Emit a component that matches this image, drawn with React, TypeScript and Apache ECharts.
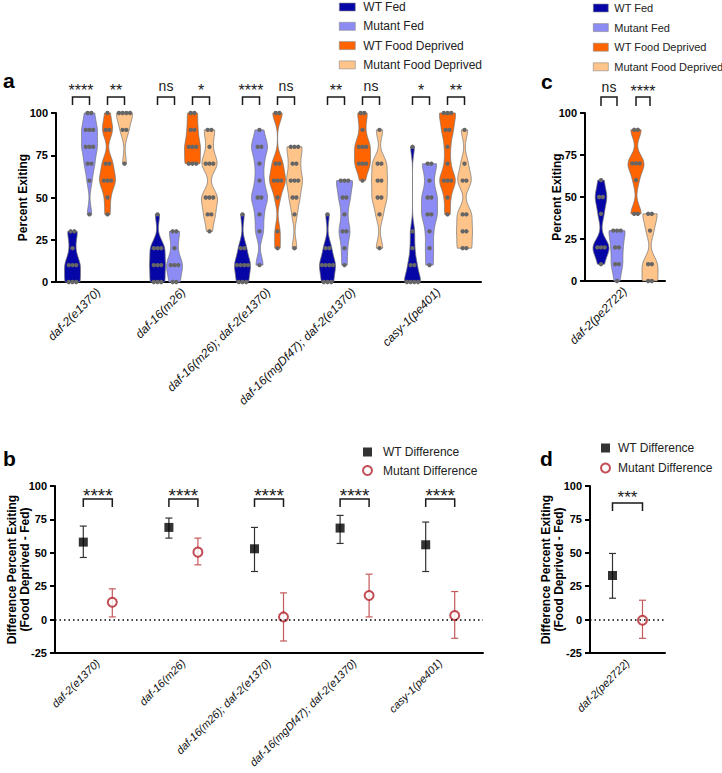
import React, { useEffect, useRef } from "react";
import * as echarts from "echarts";

const FONT = "'Liberation Sans', Arial, Helvetica, sans-serif";

// ---------- Panel a / c : violin data (percent exiting per trial) ----------
const categoriesA = [
  "daf-2(e1370)",
  "daf-16(m26)",
  "daf-16(m26); daf-2(e1370)",
  "daf-16(mgDf47); daf-2(e1370)",
  "casy-1(pe401)",
];
const categoriesC = ["daf-2(pe2722)"];
const conditions = ["WT Fed", "Mutant Fed", "WT Food Deprived", "Mutant Food Deprived"];
const conditionColors = ["#0606a6", "#8c8cf4", "#ff6400", "#ffc48a"];

const wtFedA = [
  [0, 0, 0, 10, 10, 10, 20, 30, 30],
  [0, 0, 0, 10, 10, 10, 20, 20, 20, 40],
  [0, 0, 0, 10, 10, 10, 10, 20, 20, 40],
  [0, 0, 0, 10, 10, 10, 10, 20, 20, 40],
  [0, 0, 0, 0, 10, 10, 20, 30, 80],
];
const mutFedA = [
  [40, 60, 70, 70, 80, 80, 80, 90, 90, 90, 100, 100],
  [0, 0, 10, 10, 10, 20, 30, 30],
  [10, 30, 40, 50, 50, 60, 70, 80, 80, 90],
  [10, 20, 30, 30, 40, 50, 50, 60, 60, 60],
  [10, 20, 30, 40, 40, 50, 50, 60, 70, 70],
];
const wtFdA = [
  [40, 50, 60, 60, 60, 70, 70, 90, 90, 100],
  [70, 70, 70, 80, 80, 80, 90, 90, 100, 100],
  [20, 30, 50, 60, 60, 60, 70, 70, 100, 100],
  [60, 70, 70, 70, 80, 80, 80, 90, 100, 100],
  [40, 50, 60, 60, 60, 70, 80, 90, 90, 100, 100, 100],
];
const mutFdA = [
  [70, 90, 90, 100, 100, 100, 100],
  [30, 40, 40, 50, 50, 50, 70, 70, 70, 80, 90, 90],
  [20, 40, 50, 50, 60, 60, 60, 70, 70, 80, 80, 80],
  [20, 40, 50, 50, 60, 60, 70, 70, 90],
  [20, 20, 30, 30, 40, 40, 60, 60, 70, 90],
];
const wtFedC = [[10, 20, 20, 20, 40, 50, 50, 60]];
const mutFedC = [[0, 10, 10, 20, 20, 30, 30, 30]];
const wtFdC = [[40, 40, 60, 70, 70, 70, 90, 90]];
const mutFdC = [[0, 0, 10, 10, 30, 40, 40]];

const sigA = [
  ["****", "ns", "****", "**", "*"],
  ["**", "*", "ns", "ns", "**"],
];
const sigC = [["ns"], ["****"]];

// ---------- Panel b / d : differences ----------
const wtDiffB = [58, 69, 53, 68.5, 56];
const wtDiffLowB = [46.5, 61, 36, 57, 36];
const wtDiffHighB = [70, 76, 69, 78, 73];
const mutDiffB = [13, 50.5, 2, 18, 3];
const mutDiffLowB = [2, 41, -16, 2, -14];
const mutDiffHighB = [23, 61, 20, 34, 21];
const sigB = ["****", "****", "****", "****", "****"];

const wtDiffD = [33];
const wtDiffLowD = [16];
const wtDiffHighD = [49.5];
const mutDiffD = [-0.5];
const mutDiffLowD = [-14];
const mutDiffHighD = [14.5];
const sigD = ["***"];

// ---------- styling constants ----------
const HALF = 8;
const BW = 5;
const DOT_R = 2.2;
const DOT_GAP = 3.7;
const RED = "#b3202a";
const RED_BAR = "#c45a5a";

function kde(vals: number[]): [number, number][] {
  const lo = Math.min(...vals);
  const hi = Math.max(...vals);
  const steps = Math.max(2, Math.round(hi - lo));
  const pts: [number, number][] = [];
  for (let i = 0; i <= steps; i++) {
    const v = lo + ((hi - lo) * i) / steps;
    let d = 0;
    for (const x of vals) d += Math.exp(-0.5 * ((v - x) / BW) ** 2);
    pts.push([v, d]);
  }
  const dmax = Math.max(...pts.map((p) => p[1]));
  return pts.map(([v, d]) => [v, d / dmax]);
}

function violinSeries(axisIdx: number, lists: number[][][], offsets: number[]) {
  return lists.map((perCat, k) => ({
    type: "custom",
    name: conditions[k],
    xAxisIndex: axisIdx,
    yAxisIndex: axisIdx,
    z: 2,
    itemStyle: { color: conditionColors[k] },
    data: perCat.map((vals, i) => [i, Math.min(...vals), Math.max(...vals)]),
    encode: { x: 0, y: [1, 2] },
    renderItem: (_p: any, api: any) => {
      const cat = api.value(0);
      const vals = perCat[cat];
      const cx = api.coord([cat, 0])[0] + offsets[k];
      const prof = kde(vals);
      const pts: number[][] = [];
      for (const [v, w] of prof) pts.push([cx - w * HALF, api.coord([cat, v])[1]]);
      for (let i = prof.length - 1; i >= 0; i--)
        pts.push([cx + prof[i][1] * HALF, api.coord([cat, prof[i][0]])[1]]);
      const children: any[] = [
        {
          type: "polygon",
          shape: { points: pts },
          style: { fill: conditionColors[k], stroke: "#727272", lineWidth: 0.7 },
        },
      ];
      const counts = new Map<number, number>();
      vals.forEach((v) => counts.set(v, (counts.get(v) || 0) + 1));
      counts.forEach((n, v) => {
        const y = api.coord([cat, v])[1];
        for (let j = 0; j < n; j++)
          children.push({
            type: "circle",
            shape: { cx: cx + (j - (n - 1) / 2) * DOT_GAP, cy: y, r: DOT_R },
            style: { fill: "#666" },
          });
      });
      return { type: "group", children };
    },
  }));
}

function textY(label: string, glyphCenter: number, fs: number) {
  return label.includes("*") ? glyphCenter + 0.23 * fs : glyphCenter - 0.09 * fs;
}

function bracketSeries(
  axisIdx: number,
  nCats: number,
  sigs: string[][],
  pairs: number[][],
  topOff: number,
  leg: number,
  textOff: number,
  starFs: number,
  nsFs: number
) {
  return {
    type: "custom",
    xAxisIndex: axisIdx,
    yAxisIndex: axisIdx,
    z: 5,
    silent: true,
    data: Array.from({ length: nCats }, (_, i) => [i, 100]),
    encode: { x: 0, y: 1 },
    renderItem: (_p: any, api: any) => {
      const cat = api.value(0);
      const [cx, y100] = api.coord([cat, 100]);
      const yTop = y100 + topOff;
      const children: any[] = [];
      pairs.forEach((pr, j) => {
        const x1 = cx + pr[0];
        const x2 = cx + pr[1];
        children.push({
          type: "polyline",
          shape: { points: [[x1, yTop + leg], [x1, yTop], [x2, yTop], [x2, yTop + leg]] },
          style: { stroke: "#1a1a1a", lineWidth: 1.5, fill: "none" },
        });
        const label = sigs[j][cat];
        const fs = label.includes("*") ? starFs : nsFs;
        children.push({
          type: "text",
          x: (x1 + x2) / 2,
          y: textY(label, y100 + textOff, fs),
          style: {
            text: label,
            align: "center",
            verticalAlign: "middle",
            fontSize: fs,
            fontFamily: FONT,
            fill: "#1a1a1a",
          },
        });
      });
      return { type: "group", children };
    },
  };
}

function errorSeries(axisIdx: number, lows: number[], highs: number[], offset: number, color: string) {
  return {
    type: "custom",
    xAxisIndex: axisIdx,
    yAxisIndex: axisIdx,
    z: 2,
    silent: true,
    data: lows.map((l, i) => [i, l, highs[i]]),
    encode: { x: 0, y: [1, 2] },
    renderItem: (_p: any, api: any) => {
      const cat = api.value(0);
      const pLo = api.coord([cat, api.value(1)]);
      const pHi = api.coord([cat, api.value(2)]);
      const x = pLo[0] + offset;
      const cap = 3.5;
      const st = { stroke: color, lineWidth: 1.2 };
      return {
        type: "group",
        children: [
          { type: "line", shape: { x1: x, y1: pLo[1], x2: x, y2: pHi[1] }, style: st },
          { type: "line", shape: { x1: x - cap, y1: pLo[1], x2: x + cap, y2: pLo[1] }, style: st },
          { type: "line", shape: { x1: x - cap, y1: pHi[1], x2: x + cap, y2: pHi[1] }, style: st },
        ],
      };
    },
  };
}

function xAxisDef(gridIndex: number, data: string[], fs: number) {
  return {
    type: "category",
    gridIndex,
    data,
    axisLine: { onZero: false, lineStyle: { color: "#000", width: 2 } },
    axisTick: { alignWithLabel: true, length: 5, lineStyle: { width: 2, color: "#000" } },
    axisLabel: {
      rotate: 45,
      interval: 0,
      fontStyle: "italic",
      fontSize: fs,
      color: "#111",
      margin: 8,
      fontFamily: FONT,
    },
    splitLine: { show: false },
  };
}

function yAxisDef(gridIndex: number, min: number, name: string, nameGap: number) {
  return {
    type: "value",
    gridIndex,
    min,
    max: 100,
    interval: 25,
    axisLine: { show: true, lineStyle: { color: "#000", width: 2 } },
    axisTick: { show: true, length: 5, lineStyle: { width: 2, color: "#000" } },
    axisLabel: { color: "#000", fontWeight: "bold", fontSize: 11, margin: 8, fontFamily: FONT },
    splitLine: { show: false },
    name,
    nameLocation: "middle",
    nameGap,
    nameMoveOverlap: false,
    nameTextStyle: {
      fontSize: 12,
      fontWeight: "bold",
      color: "#000",
      fontFamily: FONT,
      lineHeight: 13,
    },
  };
}

function diffSeries(
  axisIdx: number,
  wt: number[],
  mut: number[],
  wtOff: number,
  mutOff: number
) {
  return [
    {
      type: "scatter",
      name: "WT Difference",
      xAxisIndex: axisIdx,
      yAxisIndex: axisIdx,
      z: 4,
      symbol: "rect",
      symbolSize: 9,
      symbolOffset: [wtOff, 0],
      itemStyle: { color: "#000" },
      data: wt.map((v, i) => [i, v]),
      markLine: {
        silent: true,
        symbol: ["none", "none"],
        label: { show: false },
        lineStyle: { type: [1.5, 3], color: "#000", width: 1.5 },
        data: [{ yAxis: 0 }],
      },
    },
    {
      type: "scatter",
      name: "Mutant Difference",
      xAxisIndex: axisIdx,
      yAxisIndex: axisIdx,
      z: 4,
      symbol: "circle",
      symbolSize: 9,
      symbolOffset: [mutOff, 0],
      itemStyle: { color: "#fff", borderColor: RED, borderWidth: 2 },
      data: mut.map((v, i) => [i, v]),
    },
  ];
}

function buildOption() {
  const offA = [-26, -9, 9, 26];
  const offC = [-24, -8, 11, 25];
  const legendViolin = (left: number, top: number, pad: number, fs: number, w: number, gap: number) => ({
    orient: "vertical",
    left,
    top,
    padding: 0,
    itemWidth: w,
    itemHeight: 8,
    itemGap: gap,
    selectedMode: false,
    textStyle: { fontSize: fs, color: "#222", fontFamily: FONT, lineHeight: 14, padding: [0, 0, 0, pad] },
    data: conditions.map((n) => ({ name: n, icon: "rect", itemStyle: { borderColor: "#8a8a8a", borderWidth: 0.6 } })),
  });
  const legendDiff = (left: number, top: number, gap: number, pad: number) => ({
    orient: "vertical",
    left,
    top,
    padding: 0,
    itemWidth: 9,
    itemHeight: 9,
    itemGap: gap,
    selectedMode: false,
    textStyle: { fontSize: 12, color: "#222", fontFamily: FONT, lineHeight: 14, padding: [0, 0, 0, pad] },
    data: [
      { name: "WT Difference", icon: "rect", itemStyle: { color: "#000" } },
      {
        name: "Mutant Difference",
        icon: "circle",
        itemStyle: { color: "#fff", borderColor: RED, borderWidth: 2 },
      },
    ],
  });
  const gridBase = { outerBoundsMode: "none", containLabel: false };

  return {
    animation: false,
    backgroundColor: "#fff",
    textStyle: { fontFamily: FONT },
    legend: [
      legendViolin(339, 0, 3, 12, 16, 5.3),
      legendViolin(593, 1, 1, 11, 15, 5.6),
      legendDiff(362, 445, 4.5, 6),
      legendDiff(600, 441, 6, 3),
    ],
    grid: [
      { ...gridBase, left: 56, top: 113, width: 425, height: 169 },
      { ...gridBase, left: 585, top: 113, width: 80, height: 168 },
      { ...gridBase, left: 55, top: 486, width: 428, height: 167 },
      { ...gridBase, left: 590, top: 486, width: 75, height: 167 },
    ],
    xAxis: [
      xAxisDef(0, categoriesA, 12),
      xAxisDef(1, categoriesC, 12),
      xAxisDef(2, categoriesA, 11),
      xAxisDef(3, categoriesC, 11),
    ],
    yAxis: [
      yAxisDef(0, 0, "Percent Exiting", 27),
      yAxisDef(1, 0, "Percent Exiting", 22),
      yAxisDef(2, -25, "Difference Percent Exiting\n(Food Deprived - Fed)", 23.5),
      yAxisDef(3, -25, "Difference Percent Exiting\n(Food Deprived - Fed)", 24.5),
    ],
    graphic: [
      { type: "text", left: 3, top: 70, style: { text: "a", fontSize: 21, fontWeight: "bold", fontFamily: FONT, fill: "#000" } },
      { type: "text", left: 541, top: 71, style: { text: "c", fontSize: 21, fontWeight: "bold", fontFamily: FONT, fill: "#000" } },
      { type: "text", left: 3, top: 448, style: { text: "b", fontSize: 21, fontWeight: "bold", fontFamily: FONT, fill: "#000" } },
      { type: "text", left: 540, top: 448, style: { text: "d", fontSize: 21, fontWeight: "bold", fontFamily: FONT, fill: "#000" } },
    ],
    series: [
      ...violinSeries(0, [wtFedA, mutFedA, wtFdA, mutFdA], offA),
      ...violinSeries(1, [wtFedC, mutFedC, wtFdC, mutFdC], offC),
      bracketSeries(0, categoriesA.length, sigA, [[offA[0], offA[1]], [offA[2], offA[3]]], -16, 8, -26, 16, 14),
      bracketSeries(1, categoriesC.length, sigC, [[offC[0], offC[1]], [offC[2], offC[3]]], -16, 9, -25, 16, 14),
      errorSeries(2, wtDiffLowB, wtDiffHighB, -14.5, "#333"),
      errorSeries(2, mutDiffLowB, mutDiffHighB, 14.5, RED_BAR),
      ...diffSeries(2, wtDiffB, mutDiffB, -14.5, 14.5),
      bracketSeries(2, categoriesA.length, [sigB], [[-14.5, 14.5]], 13, 8, 5, 19, 14),
      errorSeries(3, wtDiffLowD, wtDiffHighD, -15, "#333"),
      errorSeries(3, mutDiffLowD, mutDiffHighD, 15, RED_BAR),
      ...diffSeries(3, wtDiffD, mutDiffD, -15, 15),
      bracketSeries(3, categoriesC.length, [sigD], [[-15, 15]], 17, 8, 8, 17, 14),
    ],
  };
}

export default function App() {
  const ref = useRef<HTMLDivElement>(null);
  useEffect(() => {
    if (!ref.current) return;
    const chart = echarts.init(ref.current, null, { renderer: "svg" });
    chart.setOption(buildOption() as any);
    return () => chart.dispose();
  }, []);
  return (
    <div
      ref={ref}
      style={{ width: 722, height: 773, position: "absolute", left: 0, top: 0, background: "#fff" }}
    />
  );
}
